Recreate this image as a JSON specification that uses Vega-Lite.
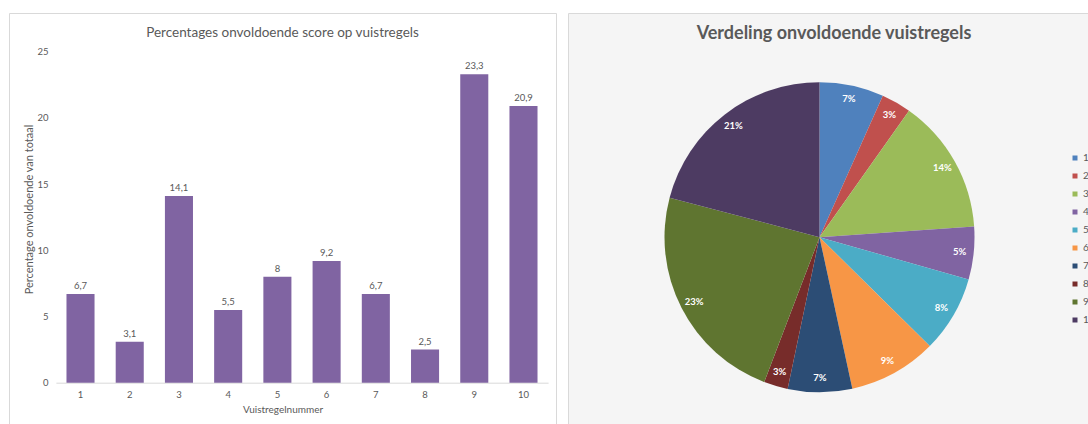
{
  "$schema": "https://vega.github.io/schema/vega-lite/v6.json",
  "padding": {"left": 8, "top": 12, "right": 0, "bottom": 0},
  "autosize": {"type": "pad"},
  "background": "white",
  "config": {
    "font": "Lato",
    "locale": {"number": {"decimal": ",", "thousands": ".", "grouping": [3], "currency": ["€ ", ""]}},
    "concat": {"spacing": 10},
    "view": {"stroke": "#d9d9d9"}
  },
  "datasets": {
    "scores": [
      {"n": 1, "pct": 6.7, "label": "7%"},
      {"n": 2, "pct": 3.1, "label": "3%"},
      {"n": 3, "pct": 14.1, "label": "14%"},
      {"n": 4, "pct": 5.5, "label": "5%"},
      {"n": 5, "pct": 8, "label": "8%"},
      {"n": 6, "pct": 9.2, "label": "9%"},
      {"n": 7, "pct": 6.7, "label": "7%"},
      {"n": 8, "pct": 2.5, "label": "3%"},
      {"n": 9, "pct": 23.3, "label": "23%"},
      {"n": 10, "pct": 20.9, "label": "21%"}
    ]
  },
  "hconcat": [
    {
      "width": 547,
      "height": 412,
      "data": {"name": "scores"},
      "view": {"stroke": "#d9d9d9", "fill": "white"},
      "title": {"text": "Percentages onvoldoende score op vuistregels", "offset": -26, "fontSize": 13.5, "fontWeight": "normal", "color": "#595959", "anchor": "middle"},
      "encoding": {
        "x": {
          "field": "n", "type": "ordinal",
          "scale": {"range": [46.9, 539.1], "paddingInner": 0.43, "paddingOuter": 0.215},
          "axis": {"offset": -42.3, "domainColor": "#d9d9d9", "ticks": false, "grid": false, "labelAngle": 0, "labelFontSize": 9.5, "labelColor": "#595959", "labelPadding": 7, "title": "Vuistregelnummer", "titleFontSize": 10, "titleFontWeight": "normal", "titleColor": "#595959", "titlePadding": 5, "titleX": 273.5}
        },
        "y": {
          "field": "pct", "type": "quantitative",
          "scale": {"domain": [-3.195, 27.923], "nice": false, "zero": false},
          "axis": {"values": [0, 5, 10, 15, 20, 25], "offset": -41, "domain": false, "ticks": false, "grid": false, "labelFontSize": 9.5, "labelColor": "#595959", "labelPadding": 2, "title": "Percentage onvoldoende van totaal", "titleFontSize": 11, "titleFontWeight": "normal", "titleColor": "#595959", "titlePadding": 2, "titleY": 196}
        }
      },
      "layer": [
        {"mark": {"type": "bar", "color": "#8064A2"}},
        {"mark": {"type": "text", "dy": -8, "fontSize": 9.5, "color": "#595959"},
         "encoding": {"text": {"field": "pct", "type": "quantitative", "format": ".1~f"}}}
      ]
    },
    {
      "width": 520,
      "height": 412,
      "data": {"name": "scores"},
      "view": {"fill": "#f5f5f5", "stroke": "#d9d9d9"},
      "title": {"text": "Verdeling onvoldoende vuistregels", "offset": -30, "fontSize": 18, "fontWeight": "bold", "color": "#595959", "anchor": "middle", "dx": 6},
      "encoding": {
        "theta": {"field": "pct", "type": "quantitative", "stack": true},
        "order": {"field": "n", "type": "quantitative"},
        "color": {
          "field": "n", "type": "nominal",
          "scale": {"domain": [1, 2, 3, 4, 5, 6, 7, 8, 9, 10], "range": ["#4F81BD", "#C0504D", "#9BBB59", "#8064A2", "#4BACC6", "#F79646", "#2C4D75", "#772C2A", "#5F7530", "#4D3B62"]},
          "legend": {"orient": "none", "legendX": 1061, "legendY": 140, "title": null, "symbolType": "square", "symbolSize": 25, "symbolStrokeWidth": 0, "labelFontSize": 10, "labelColor": "#595959", "rowPadding": 8, "labelOffset": 3, "padding": 0, "labelExpr": "substring(datum.label, 0, 1)"}
        }
      },
      "layer": [
        {"mark": {"type": "arc", "outerRadius": 155, "xOffset": -8.5, "yOffset": 18.2}},
        {"mark": {"type": "text", "radius": 141, "xOffset": -8.5, "yOffset": 18.2, "fontWeight": "bold", "fontSize": 9.5},
         "encoding": {"text": {"field": "label"}, "color": {"value": "white"}}}
      ]
    }
  ]
}
